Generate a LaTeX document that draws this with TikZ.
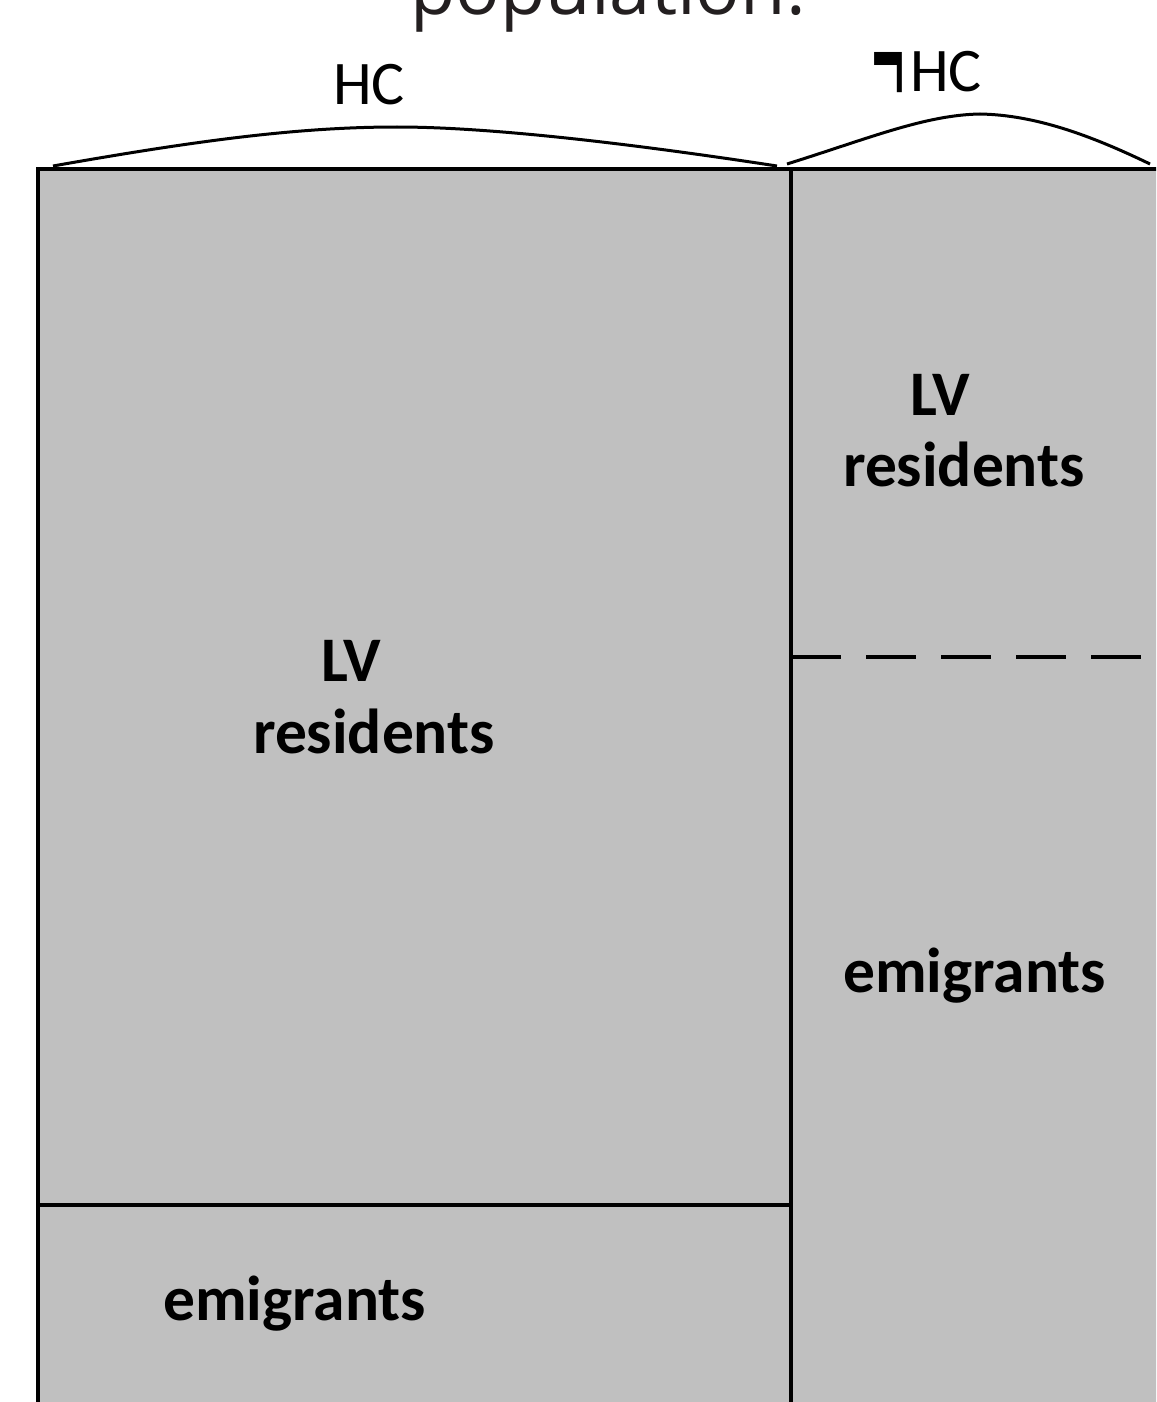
\documentclass[tikz,border=0pt]{standalone}
\usepackage{fontspec}
\setmainfont{Carlito}
\newfontfamily\headfont{Open Sans}
\definecolor{panel}{HTML}{C0C0C0}
\definecolor{ink}{HTML}{231F20}
\tikzset{
  frame/.style={line width=3.5pt},
  splitline/.style={line width=3.5pt, dash pattern=on 50pt off 25pt},
  arch/.style={line width=3pt},
  lbl/.style={font=\fontsize{63.5}{63.5}\selectfont\bfseries, anchor=base west, inner sep=0pt},
  hdr/.style={font=\fontsize{62}{62}\selectfont, anchor=base west, inner sep=0pt},
}
\begin{document}
\begin{tikzpicture}[x=1pt,y=-1pt]
\useasboundingbox (0,0) rectangle (1156,1402);
\clip (0,0) rectangle (1156,1402);

% title, partly above the page
\node[font=\headfont\fontsize{74}{74}\selectfont, text=ink, anchor=base, inner sep=0pt] (title) at (608,15) {population.};

% grey area and its partition
\fill[panel] (38,169) rectangle (1170,1420);
\draw[frame] (1170,169) -- (38,169) -- (38,1420);
\draw[frame] (791,169) -- (791,1420);
\draw[frame] (38,1205) -- (791,1205);
\draw[splitline] (791,657) -- (1170,657);

% arches above the two columns
\coordinate (aL1) at (53,166);
\coordinate (aLtop) at (397,127);
\coordinate (aL2) at (777,166);
\coordinate (aR1) at (787,164);
\coordinate (aRtop) at (980,114);
\coordinate (aR2) at (1150,164);
\draw[arch] (aL1) .. controls (200,140) and (300,127) .. (aLtop)
  .. controls (494,127) and (640,145) .. (aL2);
\draw[arch] (aR1) .. controls (870,138) and (925,115) .. (aRtop)
  .. controls (1035,115) and (1090,135) .. (aR2);

% column headings
\node[hdr] (hcL) at (333,105) {HC};
\node[hdr] (hcR) at (910,92) {HC};
\node[anchor=north west, inner sep=0pt] (negR) at (871,52)
  {\resizebox{34pt}{70pt}{¬}};

% cell labels
\node[lbl] (lvL) at (321,681) {LV};
\node[lbl] (resL) at (253,753) {residents};
\node[lbl] (emL) at (163,1320) {emigrants};
\node[lbl] (lvR) at (910,415) {LV};
\node[lbl] (resR) at (843,486) {residents};
\node[lbl] (emR) at (843,992) {emigrants};
\end{tikzpicture}
\end{document}
